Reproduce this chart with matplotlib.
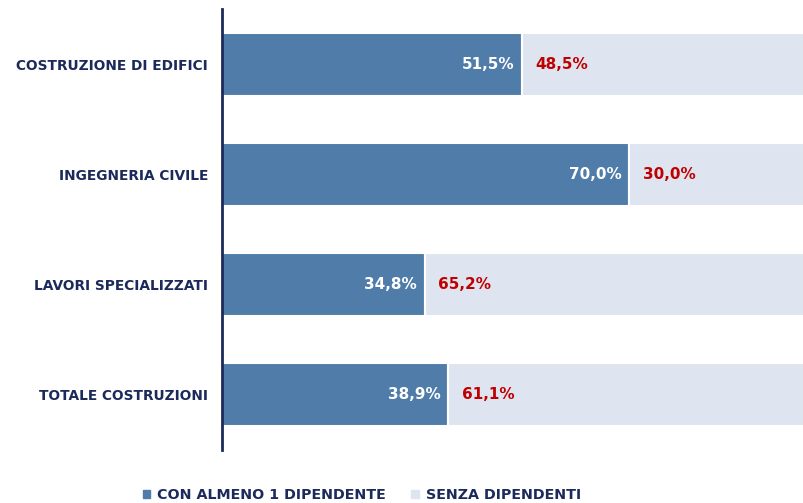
import matplotlib
matplotlib.use("Agg")
import matplotlib.pyplot as plt
from matplotlib.patches import Patch

categories = ["COSTRUZIONE DI EDIFICI", "INGEGNERIA CIVILE", "LAVORI SPECIALIZZATI", "TOTALE COSTRUZIONI"]
con_dip = [51.5, 70.0, 34.8, 38.9]
senza_dip = [48.5, 30.0, 65.2, 61.1]
series_names = ["CON ALMENO 1 DIPENDENTE", "SENZA DIPENDENTI"]

c_blue = "#4F7CA8"
c_light = "#DEE5F0"
c_text = "#1B2A5A"
c_red = "#C00000"

fig = plt.figure(figsize=(8.04, 5.03), dpi=100)
ax = fig.add_axes([222/804, 1-450/503, 1-222/804, (450-9)/503])

y = list(range(len(categories)))
ax.barh(y, con_dip, height=0.57, color=c_blue, edgecolor="white", linewidth=1.5)
ax.barh(y, senza_dip, left=con_dip, height=0.57, color=c_light, edgecolor="white", linewidth=1.5)

fnt = dict(family="DejaVu Sans", fontweight="bold")
for i, (a, b) in enumerate(zip(con_dip, senza_dip)):
    ax.text(a - 1.3, i, f"{a:.1f}%".replace(".", ","), ha="right", va="center",
            color="white", fontsize=11, **fnt)
    ax.text(a + 2.3, i, f"{b:.1f}%".replace(".", ","), ha="left", va="center",
            color=c_red, fontsize=11, **fnt)

ax.set_xlim(0, 100)
ax.set_ylim(3.5, -0.5)
ax.set_yticks(y)
ax.set_yticklabels(categories, color=c_text, fontsize=9.9, fontweight="bold", family="DejaVu Sans")
ax.tick_params(axis="y", length=0, pad=10)
ax.set_xticks([])
for s in ["top", "right", "bottom"]:
    ax.spines[s].set_visible(False)
ax.spines["left"].set_color(c_text)
ax.spines["left"].set_linewidth(2)

handles = [Patch(color=c_blue), Patch(color=c_light)]
fig.legend(handles, series_names, loc="lower center", bbox_to_anchor=(0.45, -0.024), ncol=2,
           frameon=False, handlelength=0.5, handleheight=0.5, columnspacing=1.8, handletextpad=0.5,
           prop=dict(family="DejaVu Sans", weight="bold", size=10.3), labelcolor=c_text)

fig.savefig("out.png", dpi=100)
